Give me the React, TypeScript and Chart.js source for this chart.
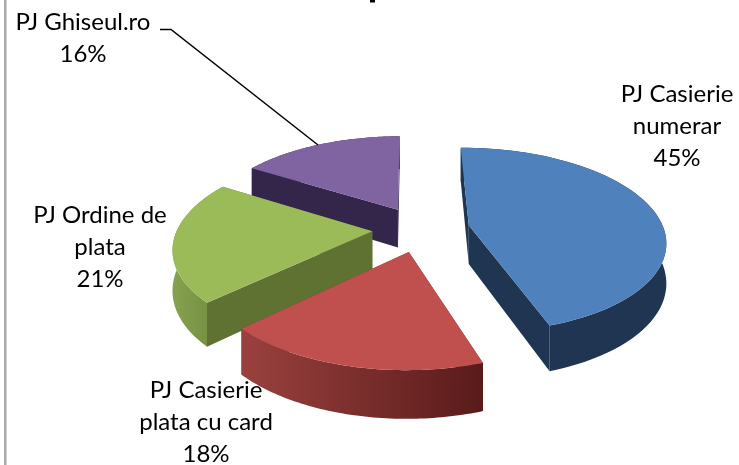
import React, { useEffect, useRef } from "react";
import { Chart, registerables } from "chart.js";

Chart.register(...registerables);

const categories = ["PJ Casierie numerar", "PJ Casierie plata cu card", "PJ Ordine de plata", "PJ Ghiseul.ro"];
const values = [45, 18, 21, 16];
const labelLines = [["PJ Casierie", "numerar", "45%"], ["PJ Casierie", "plata cu card", "18%"], ["PJ Ordine de", "plata", "21%"], ["PJ Ghiseul.ro", "16%"]];
const labelCenters = [[677, 102], [206, 398], [100, 223], [83, 30]];
const topColors = ["#4f81bd", "#c0504d", "#9bbb59", "#8064a2"];
const wallColors = ["#1f3552", "#7a2f2d", "#5f7231", "#33264a"];
const rimColors = [["#1f3552", "#1f3552"], ["#9a413e", "#591b1a"], ["#86a24f", "#6f8a3e"], ["#33264a", "#33264a"]];
const drawOrder = [3, 0, 2, 1];

const view = { cx: 421, cy: 229, a: 195, b: 91, k: 0.16, h: 39, explode: 0.25 };

function project(x: number, y: number) {
  const s = 1 / (1 - view.k * y);
  return { x: view.cx + view.a * x * s, y: view.cy + view.b * y * s, d: view.h * s };
}

const pie3d = {
  id: "pie3d",
  beforeDatasetsDraw(chart: any) {
    const ctx = chart.ctx as CanvasRenderingContext2D;
    const arcs = chart.getDatasetMeta(0).data as any[];
    for (const i of drawOrder) {
      const { startAngle, endAngle } = arcs[i];
      const mid = (startAngle + endAngle) / 2;
      const ox = view.explode * Math.cos(mid);
      const oy = view.explode * Math.sin(mid);
      const apex = project(ox, oy);
      const rim: { x: number; y: number; d: number }[] = [];
      const steps = 64;
      for (let n = 0; n <= steps; n++) {
        const t = startAngle + ((endAngle - startAngle) * n) / steps;
        rim.push(project(ox + Math.cos(t), oy + Math.sin(t)));
      }
      const first = rim[0];
      const last = rim[steps];
      const quad = (p: any, q: any) => {
        ctx.beginPath();
        ctx.moveTo(p.x, p.y);
        ctx.lineTo(q.x, q.y);
        ctx.lineTo(q.x, q.y + q.d);
        ctx.lineTo(p.x, p.y + p.d);
        ctx.closePath();
        ctx.fillStyle = wallColors[i];
        ctx.fill();
      };
      quad(apex, first);
      quad(apex, last);
      const xs = rim.map((p) => p.x);
      const grad = ctx.createLinearGradient(Math.min(...xs), 0, Math.max(...xs), 0);
      grad.addColorStop(0, rimColors[i][0]);
      grad.addColorStop(1, rimColors[i][1]);
      ctx.beginPath();
      rim.forEach((p, n) => (n ? ctx.lineTo(p.x, p.y) : ctx.moveTo(p.x, p.y)));
      for (let n = steps; n >= 0; n--) ctx.lineTo(rim[n].x, rim[n].y + rim[n].d);
      ctx.closePath();
      ctx.fillStyle = grad;
      ctx.fill();
      ctx.beginPath();
      ctx.moveTo(apex.x, apex.y);
      rim.forEach((p) => ctx.lineTo(p.x, p.y));
      ctx.closePath();
      ctx.fillStyle = topColors[i];
      ctx.fill();
    }
    return false;
  },
  afterDraw(chart: any) {
    const ctx = chart.ctx as CanvasRenderingContext2D;
    ctx.save();
    ctx.fillStyle = "#aaaaaa";
    ctx.fillRect(4, 0, 2.5, 465);
    ctx.fillStyle = "#000000";
    ctx.fillRect(370, 0, 5, 2.5);
    ctx.strokeStyle = "#000000";
    ctx.lineWidth = 1.5;
    ctx.beginPath();
    ctx.moveTo(160, 29.5);
    ctx.lineTo(171, 29.5);
    ctx.lineTo(318, 145);
    ctx.stroke();
    ctx.font = '24px Lato, "Open Sans", sans-serif';
    ctx.textAlign = "center";
    ctx.textBaseline = "alphabetic";
    ctx.fillStyle = "#000000";
    labelLines.forEach((lines, i) => {
      lines.forEach((line, n) => ctx.fillText(line, labelCenters[i][0], labelCenters[i][1] + n * 32));
    });
    ctx.restore();
  },
};

export default function App() {
  const ref = useRef<HTMLCanvasElement>(null);
  useEffect(() => {
    document.body.style.margin = "0";
    const chart = new Chart(ref.current!, {
      type: "pie",
      data: {
        labels: categories,
        datasets: [{ data: values, backgroundColor: topColors, borderWidth: 0 }],
      },
      options: {
        responsive: false,
        animation: false,
        rotation: -0.5,
        plugins: { legend: { display: false }, tooltip: { enabled: false }, title: { display: false } },
      },
      plugins: [pie3d],
    } as any);
    return () => chart.destroy();
  }, []);
  return <canvas ref={ref} width={739} height={465} style={{ display: "block", background: "#ffffff" }} />;
}
